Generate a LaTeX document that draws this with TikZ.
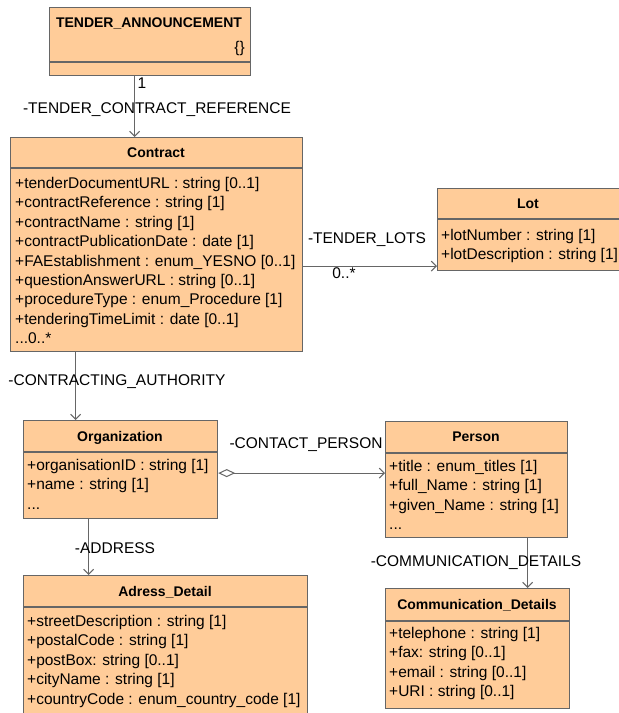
\documentclass[tikz,border=0pt]{standalone}
\usepackage{fontspec}
\setmainfont{Liberation Sans}
\usetikzlibrary{arrows.meta}

\definecolor{classfill}{HTML}{FFCC99}
\definecolor{classline}{HTML}{666666}

\begin{document}
\begin{tikzpicture}[x=1pt, y=-1pt,
    classbox/.style = {draw=classline, fill=classfill, line width=1.2pt, anchor=north west, inner sep=0pt},
    sepline/.style = {draw=classline, line width=1.2pt},
    classname/.style = {font=\fontsize{14}{16}\selectfont\bfseries, anchor=base, inner sep=0pt},
    attrs/.style = {font=\fontsize{15.5}{19.4}\selectfont, align=left, anchor=north west, inner sep=0pt},
    rolename/.style = {font=\fontsize{15.5}{18}\selectfont, anchor=base, inner sep=0pt},
    assoc/.style = {draw=classline, line width=1pt, -{Straight Barb[length=5pt,width=10pt]}},
    aggr/.style = {draw=classline, line width=1pt, {Diamond[open,length=17pt,width=8pt]}-{Straight Barb[length=5pt,width=10pt]}}]

    \path[use as bounding box, fill=white] (0,0) rectangle (619,713);

    % classes
    \node[classbox, minimum width=201, minimum height=68] (ta) at (49,7) {};
    \draw[sepline] ([yshift=-55]ta.north west) -- ([yshift=-55]ta.north east);
    \node[classname] (ta-name) at (149,27) {TENDER\_ANNOUNCEMENT};
    \node[rolename, anchor=base east] (ta-tag) at (245,52) {\{\}};

    \node[classbox, minimum width=292, minimum height=214] (contract) at (10,137) {};
    \draw[sepline] ([yshift=-31]contract.north west) -- ([yshift=-31]contract.north east);
    \node[classname] (contract-name) at (156,157) {Contract};
    \node[attrs] (contract-attrs) at (15,177) {+tenderDocumentURL : string [0..1]\\
        +contractReference : string [1]\\
        +contractName : string [1]\\
        +contractPublicationDate : date [1]\\
        +FAEstablishment : enum\_YESNO [0..1]\\
        +questionAnswerURL : string [0..1]\\
        +procedureType : enum\_Procedure [1]\\
        +tenderingTimeLimit : date [0..1]\\
        ...0..*};

    \node[classbox, minimum width=183, minimum height=82] (lot) at (437,188) {};
    \draw[sepline] ([yshift=-31]lot.north west) -- ([yshift=-31]lot.north east);
    \node[classname] (lot-name) at (528,208) {Lot};
    \node[attrs] (lot-attrs) at (441,229) {+lotNumber : string [1]\\
        +lotDescription : string [1]};

    \node[classbox, minimum width=194, minimum height=98] (org) at (23,420) {};
    \draw[sepline] ([yshift=-32]org.north west) -- ([yshift=-32]org.north east);
    \node[classname] (org-name) at (120,441) {Organization};
    \node[attrs] (org-attrs) at (27,459) {+organisationID : string [1]\\
        +name : string [1]\\
        ...};

    \node[classbox, minimum width=182, minimum height=116] (person) at (385,421) {};
    \draw[sepline] ([yshift=-32]person.north west) -- ([yshift=-32]person.north east);
    \node[classname] (person-name) at (476,441) {Person};
    \node[attrs] (person-attrs) at (389,460) {+title : enum\_titles [1]\\
        +full\_Name : string [1]\\
        +given\_Name : string [1]\\
        ...};

    \node[classbox, minimum width=284, minimum height=150] (addr) at (23,575) {};
    \draw[sepline] ([yshift=-32]addr.north west) -- ([yshift=-32]addr.north east);
    \node[classname] (addr-name) at (165,596) {Adress\_Detail};
    \node[attrs] (addr-attrs) at (27,615) {+streetDescription : string [1]\\
        +postalCode : string [1]\\
        +postBox: string [0..1]\\
        +cityName : string [1]\\
        +countryCode : enum\_country\_code [1]};

    \node[classbox, minimum width=184, minimum height=120] (comm) at (385,588) {};
    \draw[sepline] ([yshift=-33]comm.north west) -- ([yshift=-33]comm.north east);
    \node[classname] (comm-name) at (477,609) {Communication\_Details};
    \node[attrs] (comm-attrs) at (389,627) {+telephone : string [1]\\
        +fax: string [0..1]\\
        +email : string [0..1]\\
        +URI : string [0..1]};

    % associations
    \draw[assoc] ([xshift=-15.5]ta.south) -- ([xshift=-15.5]ta.south |- contract.north);
    \draw[assoc] ([yshift=-36.5]lot.west -| contract.east) -- ([yshift=-36.5]lot.west);
    \draw[assoc] ([xshift=-81]contract.south) -- ([xshift=-81]contract.south |- org.north);
    \draw[aggr] ([yshift=-3.5]org.east) -- ([yshift=-3.5]org.east -| person.west);
    \draw[assoc] ([xshift=-32]org.south) -- ([xshift=-32]org.south |- addr.north);
    \draw[assoc] ([xshift=51]person.south) -- ([xshift=51]person.south |- comm.north);

    % role names and multiplicities
    \node[rolename] (mult-ta) at (142,88.5) {1};
    \node[rolename] (role-ref) at (157,113.5) {-TENDER\_CONTRACT\_REFERENCE};
    \node[rolename] (role-lots) at (367,243.5) {-TENDER\_LOTS};
    \node[rolename] (mult-lots) at (344,278) {0..*};
    \node[rolename] (role-auth) at (117,385.5) {-CONTRACTING\_AUTHORITY};
    \node[rolename] (role-contact) at (306,448.5) {-CONTACT\_PERSON};
    \node[rolename] (role-addr) at (115,553.5) {-ADDRESS};
    \node[rolename] (role-comm) at (476,566.5) {-COMMUNICATION\_DETAILS};
\end{tikzpicture}
\end{document}
